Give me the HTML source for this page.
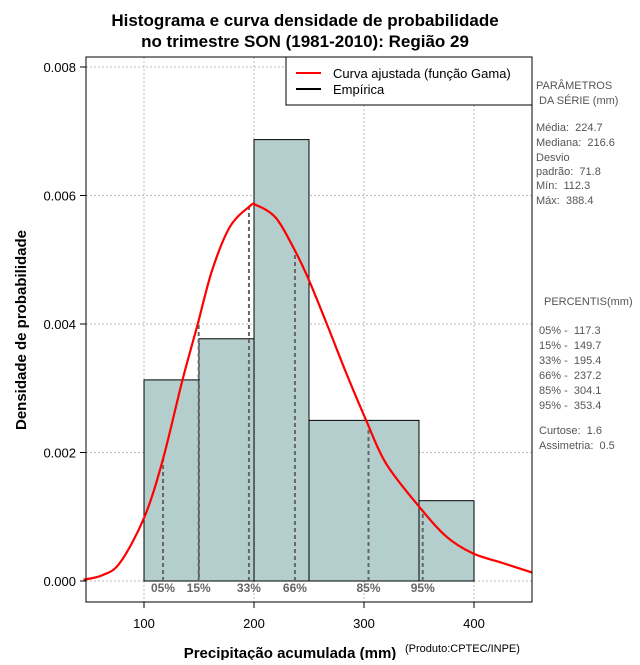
<!DOCTYPE html>
<html><head><meta charset="utf-8"><style>
body{margin:0;background:#fff;width:640px;height:660px;overflow:hidden}
svg text{font-family:"Liberation Sans",sans-serif;white-space:pre}
</style></head><body>
<svg id="chart" width="640" height="660" xmlns="http://www.w3.org/2000/svg">
<text x="305" y="26" text-anchor="middle" font-size="17" font-weight="bold">Histograma e curva densidade de probabilidade</text>
<text x="305" y="47" text-anchor="middle" font-size="17" font-weight="bold">no trimestre SON (1981-2010): Região 29</text>
<g id="grid"></g><g id="bars"></g><g id="pct"></g><g id="curve"></g><g id="axes"></g>
<rect x="86" y="57" width="446" height="545" fill="none" stroke="#000"/>
<g>
<rect x="286" y="57" width="246" height="48" fill="#fff" stroke="#000"/>
<line x1="296" y1="73" x2="321" y2="73" stroke="red" stroke-width="2"/>
<text x="333" y="78" font-size="13">Curva ajustada (função Gama)</text>
<line x1="296" y1="89" x2="321" y2="89" stroke="#000" stroke-width="2"/>
<text x="333" y="94" font-size="13">Empírica</text>
</g>
<g font-size="11" fill="#555">
<text x="536" y="89">PARÂMETROS</text><text x="539" y="104">DA SÉRIE (mm)</text>
<text x="536" y="131">Média:  224.7</text><text x="536" y="146">Mediana:  216.6</text>
<text x="536" y="161">Desvio</text><text x="536" y="175">padrão:  71.8</text>
<text x="536" y="189">Mín:  112.3</text><text x="536" y="204">Máx:  388.4</text>
<text x="544" y="305">PERCENTIS(mm)</text>
<text x="539" y="334">05% -  117.3</text><text x="539" y="349">15% -  149.7</text>
<text x="539" y="364">33% -  195.4</text><text x="539" y="379">66% -  237.2</text>
<text x="539" y="394">85% -  304.1</text><text x="539" y="409">95% -  353.4</text>
<text x="539" y="434">Curtose:  1.6</text><text x="539" y="449">Assimetria:  0.5</text>
</g>
<text x="290" y="658" text-anchor="middle" font-size="15" font-weight="bold">Precipitação acumulada (mm)</text>
<text x="405" y="652" font-size="11">(Produto:CPTEC/INPE)</text>
<text transform="translate(26,330) rotate(-90)" text-anchor="middle" font-size="15" font-weight="bold">Densidade de probabilidade</text>
</svg>
<script>
const binEdges=[100,150,200,250,350,400];
const binDensity=[0.00313,0.00377,0.00687,0.0025,0.00125];
const curveX=[45,62,78,100,117,135,149,162,178,196,202,220,237,249,266,284,302,320,350,375,399,426,453];
const curveY=[0.00002,0.00009,0.00028,0.00098,0.00188,0.00313,0.00401,0.00484,0.00551,0.00583,0.00585,0.00565,0.00515,0.00472,0.00401,0.00323,0.0025,0.00183,0.00116,0.00069,0.00043,0.00028,0.00013];
const pctLabels=["05%","15%","33%","66%","85%","95%"];
const pctValues=[117.3,149.7,195.4,237.2,304.1,353.4];
const xTicks=[100,200,300,400];
const yTicks=[0,0.002,0.004,0.006,0.008];
const NS="http://www.w3.org/2000/svg";
const sx=v=>144+(v-100)*1.1;
const sy=v=>581-v*64250;
function mk(t,a,p){const e=document.createElementNS(NS,t);for(const k in a)e.setAttribute(k,a[k]);document.getElementById(p).appendChild(e);return e;}
function dens(x){for(let i=0;i<curveX.length-1;i++){if(x>=curveX[i]&&x<=curveX[i+1]){const t=(x-curveX[i])/(curveX[i+1]-curveX[i]);return curveY[i]+t*(curveY[i+1]-curveY[i]);}}return 0;}
xTicks.forEach(v=>{
 const g=mk('line',{x1:sx(v),x2:sx(v),y1:57,y2:602,stroke:'#bbb','stroke-dasharray':'2,2'},'grid');
 
 
 const t=mk('line',{x1:sx(v),x2:sx(v),y1:602,y2:608,stroke:'#000'},'axes');
 
 
 const l=mk('text',{x:sx(v),y:628,'text-anchor':'middle','font-size':'13'},'axes');l.textContent=v;
 
 
});
yTicks.forEach(v=>{
 const g=mk('line',{x1:86,x2:532,y1:sy(v),y2:sy(v),stroke:'#bbb','stroke-dasharray':'2,2'},'grid');
 
 
 const t=mk('line',{x1:80,x2:86,y1:sy(v),y2:sy(v),stroke:'#000'},'axes');
 
 
 const l=mk('text',{x:76,y:sy(v)+5,'text-anchor':'end','font-size':'13'},'axes');l.textContent=v.toFixed(3);
 
 
});
binDensity.forEach((d,i)=>{
 const r=mk('rect',{x:sx(binEdges[i]),y:sy(d),width:sx(binEdges[i+1])-sx(binEdges[i]),height:sy(0)-sy(d),fill:'#b4cece',stroke:'#000'},'bars');
 
 
});
pctValues.forEach((v,i)=>{
 const ln=mk('line',{x1:sx(v),x2:sx(v),y1:sy(0),y2:sy(dens(v)),stroke:'#666','stroke-width':2,'stroke-dasharray':'4,3'},'pct');
 
 
 const t=mk('text',{x:sx(v),y:sy(0)+11,'text-anchor':'middle','font-size':'12','font-weight':'bold',fill:'#666','font-family':'Liberation Serif'},'pct');t.textContent=pctLabels[i];
 
 
});
const P=curveX.map((x,i)=>[sx(x),sy(curveY[i])]);
let d='M'+P[0][0].toFixed(1)+','+P[0][1].toFixed(1);
for(let i=0;i<P.length-1;i++){
 const p0=P[Math.max(0,i-1)],p1=P[i],p2=P[i+1],p3=P[Math.min(P.length-1,i+2)];
 const c1=[p1[0]+(p2[0]-p0[0])/6,p1[1]+(p2[1]-p0[1])/6];
 const c2=[p2[0]-(p3[0]-p1[0])/6,p2[1]-(p3[1]-p1[1])/6];
 d+=' C'+c1.map(v=>v.toFixed(1)).join(',')+' '+c2.map(v=>v.toFixed(1)).join(',')+' '+p2.map(v=>v.toFixed(1)).join(',');
}
const c=mk('path',{d:d,fill:'none',stroke:'red','stroke-width':2.2},'curve');


</script>
</body></html>
